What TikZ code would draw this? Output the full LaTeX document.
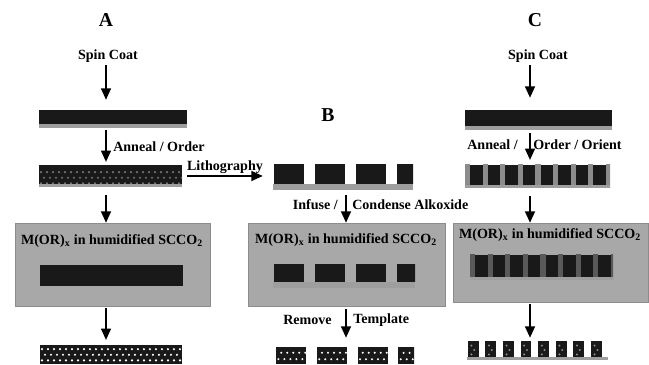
\documentclass[tikz,border=0pt]{standalone}
\usepackage{fontspec}
\setmainfont{Liberation Serif}
\usetikzlibrary{arrows.meta,calc}
\definecolor{filmdark}{gray}{0.1}
\definecolor{basegray}{gray}{0.62}
\definecolor{boxgray}{gray}{0.66}

% pores in a film, laid out from the lower left corner of the node
\newcommand{\poredots}[1]{%
  \foreach \i in {0,...,24} \foreach \j in {0,1,2}
    \fill[#1] ($(path picture bounding box.south west)+({\i*0.15+0.075*mod(\j,2)+0.05},{\j*0.14+0.09})$) circle (0.03);}

\begin{document}
\begin{tikzpicture}[
  >={Triangle[width=7pt,length=8pt]},
  font=\bfseries,
  panelname/.style={font=\bfseries\fontsize{14}{16}\selectfont, inner sep=0pt},
  steptext/.style={font=\bfseries, inner sep=0pt},
  chamber/.style={fill=boxgray, draw=black!45, line width=0.4pt, inner sep=0pt},
  film/.style={fill=filmdark, inner sep=0pt},
  layer/.style={film, path picture={
      \fill[basegray] (path picture bounding box.south west) rectangle ([yshift=0.11cm]path picture bounding box.south east);}},
  orderlayer/.style={film, path picture={
      \poredots{black!55}
      \fill[basegray] (path picture bounding box.south west) rectangle ([yshift=0.07cm]path picture bounding box.south east);}},
  stripelayer/.style={film, path picture={
      \foreach \i in {0,...,8}
        \fill[#1] ($(path picture bounding box.south west)+(\i*0.44,0)$) rectangle ++(0.13,2);
      \fill[basegray] (path picture bounding box.south west) rectangle ([yshift=0.07cm]path picture bounding box.south east);}},
  blocklayer/.style={inner sep=0pt, fill=#1, path picture={
      \foreach \i in {0,...,3}
        \fill[filmdark] ($(path picture bounding box.south west)+(\i*1.02+0.03,0.16)$) rectangle ++(0.75,2);
      \fill[basegray] (path picture bounding box.south west) rectangle ([yshift=0.16cm]path picture bounding box.south east);}},
  porouslayer/.style={film, path picture={\poredots{white}}},
  porousblocks/.style={inner sep=0pt, fill=white, path picture={
      \foreach \i in {0,...,3} {
        \fill[filmdark] ($(path picture bounding box.south west)+(\i*1.02,0)$) rectangle ++(0.75,2);
        \foreach \k in {0,...,4} \foreach \j in {0,1}
          \fill[white] ($(path picture bounding box.south west)+({\i*1.02+\k*0.15+0.07*mod(\j,2)+0.06},{\j*0.16+0.12})$) circle (0.028);
      }}},
  porouspillars/.style={inner sep=0pt, fill=white, path picture={
      \foreach \i in {0,...,7} {
        \fill[filmdark] ($(path picture bounding box.south west)+(\i*0.44+0.02,0.07)$) rectangle ++(0.27,2);
        \foreach \j in {0,1,2}
          \fill[black!45] ($(path picture bounding box.south west)+({\i*0.44+0.11+0.07*mod(\j,2)},{\j*0.11+0.14})$) circle (0.028);
      }
      \fill[basegray] (path picture bounding box.south west) rectangle ([yshift=0.07cm]path picture bounding box.south east);}},
  arrow/.style={->, line width=1.1pt}
]
\useasboundingbox (0,0) rectangle (16.225,9.125);

% column A
\node[panelname] (nameA) at (2.65,8.625) {A};
\node[steptext] (spinA) at (2.7,7.725) {Spin Coat};
\node[layer, minimum width=3.7cm, minimum height=0.45cm] (filmA1) at (2.825,6.15) {};
\node[orderlayer, minimum width=3.575cm, minimum height=0.55cm] (filmA2) at (2.7625,4.725) {};
\node[steptext, anchor=west] (annealA) at (2.825,5.45) {Anneal / Order};
\node[chamber, minimum width=4.875cm, minimum height=2.075cm] (boxA) at (2.8125,2.5125) {};
\node[steptext] (textA) at (2.8,3.1) {M(OR)\textsubscript{x} in humidified SCCO\textsubscript{2}};
\node[film, minimum width=3.575cm, minimum height=0.525cm] (innerA) at (2.7875,2.2375) {};
\node[porouslayer, minimum width=3.55cm, minimum height=0.475cm] (finalA) at (2.775,0.2625) {};
\coordinate (colA) at (2.65,0);
\draw[arrow, shorten <=2pt, shorten >=0.25cm] (colA |- spinA.south) -- (colA |- filmA1.north);
\draw[arrow, shorten <=1pt, shorten >=2pt] (colA |- filmA1.south) -- (colA |- filmA2.north);
\draw[arrow, shorten <=0.2cm] (colA |- filmA2.south) -- (colA |- boxA.north);
\draw[arrow, shorten <=1pt, shorten >=0.12cm] (colA |- boxA.south) -- (colA |- finalA.north);

% column B
\node[panelname] (nameB) at (8.2,6.25) {B};
\node[blocklayer=white, minimum width=3.5cm, minimum height=0.625cm] (filmB) at (8.575,4.6875) {};
\draw[arrow, shorten <=0.125cm, shorten >=0.25cm] (filmA2.east) -- (filmA2.east -| filmB.west);
\node[steptext] (litho) at (5.625,4.95) {Lithography};
\node[chamber, minimum width=4.925cm, minimum height=2.075cm] (boxB) at (8.6625,2.5125) {};
\node[steptext] (textB) at (8.65,3.125) {M(OR)\textsubscript{x} in humidified SCCO\textsubscript{2}};
\node[blocklayer=boxgray, minimum width=3.55cm, minimum height=0.575cm] (innerB) at (8.6,2.2125) {};
\node[porousblocks, minimum width=3.45cm, minimum height=0.4cm] (finalB) at (8.625,0.225) {};
\node[steptext, anchor=east] (infuse) at (8.45,4.0) {Infuse /};
\node[steptext, anchor=west] (condense) at (8.8,4.0) {Condense Alkoxide};
\node[steptext, anchor=east] (remove) at (8.3,1.125) {Remove};
\node[steptext, anchor=west] (template) at (8.825,1.125) {Template};
\coordinate (colB) at (8.65,0);
\draw[arrow, shorten <=0.12cm] (colB |- filmB.south) -- (colB |- boxB.north);
\draw[arrow, shorten <=2pt, shorten >=0.25cm] (colB |- boxB.south) -- (colB |- finalB.north);

% column C
\node[panelname] (nameC) at (13.375,8.625) {C};
\node[steptext] (spinC) at (13.45,7.725) {Spin Coat};
\node[layer, minimum width=3.675cm, minimum height=0.5cm] (filmC1) at (13.4625,6.125) {};
\node[stripelayer=black!45, minimum width=3.625cm, minimum height=0.575cm] (filmC2) at (13.4375,4.7125) {};
\node[steptext, anchor=east] (annealC) at (12.95,5.5) {Anneal /};
\node[steptext, anchor=west] (orderC) at (13.325,5.5) {Order / Orient};
\node[chamber, minimum width=4.875cm, minimum height=1.975cm] (boxC) at (13.7625,2.5625) {};
\node[steptext] (textC) at (13.75,3.25) {M(OR)\textsubscript{x} in humidified SCCO\textsubscript{2}};
\node[stripelayer=black!65, minimum width=3.575cm, minimum height=0.625cm] (innerC) at (13.5375,2.4375) {};
\node[porouspillars, minimum width=3.525cm, minimum height=0.45cm] (finalC) at (13.4375,0.35) {};
\coordinate (colC) at (13.25,0);
\draw[arrow, shorten <=2pt, shorten >=0.3cm] (colC |- spinC.south) -- (colC |- filmC1.north);
\draw[arrow, shorten <=2pt, shorten >=0.12cm] (colC |- filmC1.south) -- (colC |- filmC2.north);
\draw[arrow, shorten <=0.2cm] (colC |- filmC2.south) -- (colC |- boxC.north);
\draw[arrow, shorten <=1pt, shorten >=0.1cm] (colC |- boxC.south) -- (colC |- finalC.north);
\end{tikzpicture}
\end{document}
